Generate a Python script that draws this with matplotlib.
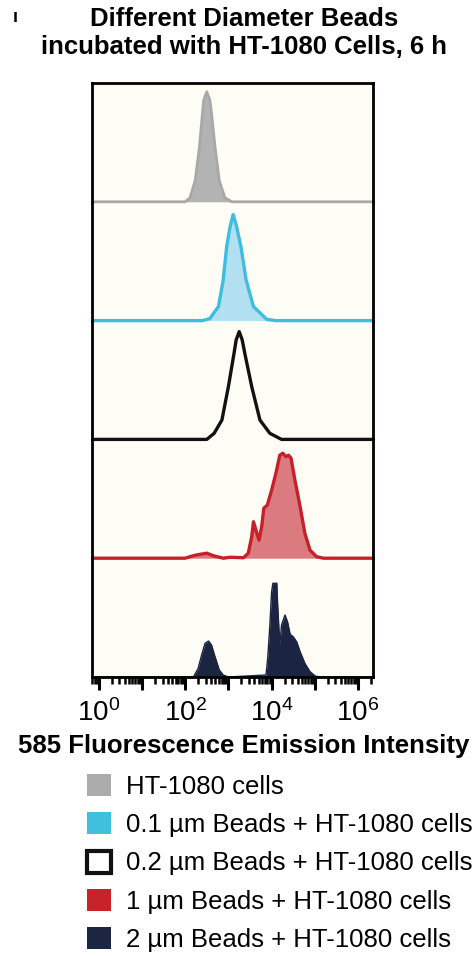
import numpy as np
import matplotlib
matplotlib.use('Agg')
import matplotlib.pyplot as plt
from matplotlib.patches import Patch
from matplotlib.ticker import FixedLocator, FuncFormatter, LogLocator, NullFormatter

plt.rcParams['font.family'] = ['Liberation Sans', 'DejaVu Sans']
plt.rcParams['mathtext.default'] = 'regular'

# log10 of 585 emission intensity, and histogram height (% of panel height)
gray_log = [2.00, 2.11, 2.23, 2.33, 2.40, 2.43, 2.50, 2.57, 2.61, 2.69, 2.79, 2.92, 3.08]
gray_cnt = [0, 3.4, 17.7, 46.3, 74.5, 85.7, 92.6, 85.7, 74.5, 46.3, 17.7, 3.4, 0]

cyan_log = [2.40, 2.57, 2.77, 2.88, 2.96, 3.04, 3.11, 3.19, 3.29, 3.41, 3.58, 3.89, 4.10]
cyan_cnt = [0, 1.7, 11.8, 34.2, 62.3, 79.1, 89.2, 79.1, 62.3, 34.2, 11.8, 1.0, 0]

black_log = [2.50, 2.67, 2.85, 3.00, 3.13, 3.18, 3.25, 3.32, 3.38, 3.54, 3.73, 3.96, 4.23]
black_cnt = [0, 5.1, 16.3, 44.4, 72.4, 83.7, 90.7, 83.7, 72.4, 44.4, 16.3, 5.1, 0]

red_log = [2.00, 2.12, 2.27, 2.50, 2.65, 2.88, 3.04, 3.35, 3.46, 3.54, 3.58, 3.66,
           3.71, 3.77, 3.82, 3.90, 4.00, 4.10, 4.19, 4.26, 4.33, 4.39, 4.45, 4.54,
           4.66, 4.77, 4.89, 5.04, 5.20]
red_cnt = [0, 1.4, 2.8, 4.2, 2.1, 0, 0.8, 0.4, 4.2, 18.1, 30.7, 21.0,
           15.2, 26.5, 42.1, 44.6, 57.2, 71.6, 86.7, 88.4, 85.4, 86.7, 84.2, 65.7,
           43.4, 21.0, 6.7, 1.3, 0]

navy_log = [2.19, 2.30, 2.38, 2.46, 2.54, 2.61, 2.69, 2.79, 2.88, 3.00,
            3.87, 3.91, 3.96, 4.00, 4.03, 4.12, 4.14, 4.19, 4.23, 4.31, 4.37,
            4.43, 4.50, 4.58, 4.66, 4.77, 4.89, 5.01, 5.12]
navy_cnt = [0, 7.3, 18.5, 28.4, 30.3, 26.9, 17.1, 5.9, 1.7, 0,
            1.7, 15.7, 43.8, 71.6, 78.9, 78.9, 60.6, 26.9, 43.8, 52.2, 46.3,
            35.9, 33.9, 29.7, 21.3, 11.5, 4.5, 0.8, 0]

labels = ['HT-1080 cells',
          '0.1 µm Beads + HT-1080 cells',
          '0.2 µm Beads + HT-1080 cells',
          '1 µm Beads + HT-1080 cells',
          '2 µm Beads + HT-1080 cells']

series = [
    # (log values, counts, line colour, fill colour, line width)
    (gray_log, gray_cnt, '#a8a8a8', '#b3b3b3', 2.0),
    (cyan_log, cyan_cnt, '#3dbde0', '#b2e0f0', 2.4),
    (black_log, black_cnt, '#111111', None, 2.4),
    (red_log, red_cnt, '#c8202a', '#db7b80', 2.4),
    (navy_log, navy_cnt, '#1b2440', '#1b2440', 1.0),
]
legend_colors = ['#ababab', '#40bfdf', None, '#c8232a', '#1c2541']

XMIN, XMAX = -0.157, 6.347

fig = plt.figure(figsize=(4.74, 9.56), dpi=100)
W, H = 474.0, 956.0
left, right = 92 / W, 373 / W
top, bottom = 1 - 83 / H, 1 - 677 / H
ph = (top - bottom) / 5

# shared background behind the stacked panels
bg = fig.add_axes([left, bottom, right - left, top - bottom], zorder=0)
bg.set_facecolor('#fdfdf6')
bg.set_xticks([])
bg.set_yticks([])
for s in bg.spines.values():
    s.set_visible(False)

axes = []
for i, (lg, cnt, lc, fc, lw) in enumerate(series):
    ax = fig.add_axes([left, top - (i + 1) * ph, right - left, ph], zorder=1 + i)
    ax.set_facecolor('none')
    xs = 10 ** np.r_[XMIN, lg, XMAX]
    ys = np.r_[0, cnt, 0]
    if fc is not None:
        ax.fill_between(xs, 0, ys, color=fc, linewidth=0)
    ax.plot(xs, ys, color=lc, linewidth=lw, clip_on=False,
            solid_joinstyle='round', solid_capstyle='butt')
    ax.set_xscale('log')
    ax.set_xlim(10 ** XMIN, 10 ** XMAX)
    ax.set_ylim(0, 100)
    ax.set_yticks([])
    for side in ['left', 'right']:
        ax.spines[side].set_linewidth(2)
        ax.spines[side].set_color('black')
    ax.spines['top'].set_visible(i == 0)
    ax.spines['top'].set_linewidth(2)
    ax.spines['bottom'].set_visible(i == 4)
    ax.spines['bottom'].set_linewidth(2)
    if i < 4:
        ax.tick_params(axis='x', which='both', bottom=False, labelbottom=False)
    axes.append(ax)

ax = axes[-1]
ax.xaxis.set_major_locator(FixedLocator([10.0 ** k for k in range(7)]))
ax.xaxis.set_major_formatter(FuncFormatter(
    lambda v, p: '$10^{%d}$' % round(np.log10(v)) if round(np.log10(v)) % 2 == 0 else ''))
ax.xaxis.set_minor_locator(LogLocator(base=10, subs=np.arange(2, 10), numticks=20))
ax.xaxis.set_minor_formatter(NullFormatter())
ax.tick_params(axis='x', which='major', length=9, width=2.2, labelsize=20, pad=7)
ax.tick_params(axis='x', which='minor', length=5, width=1.8)

fig.text(244 / W, 1 - 33 / H, 'Different Diameter Beads\nincubated with HT-1080 Cells, 6 h',
         ha='center', va='center', fontsize=18.5, fontweight='bold', linespacing=1.2)
fig.text(15 / W, 1 - 18 / H, 'ı', ha='center', va='center', fontsize=13, fontweight='bold')
fig.text(244 / W, 1 - 746 / H, '585 Fluorescence Emission Intensity',
         ha='center', va='center', fontsize=18.5, fontweight='bold')

handles = []
for c in legend_colors:
    if c is None:
        handles.append(Patch(facecolor='white', edgecolor='#111111', linewidth=3))
    else:
        handles.append(Patch(facecolor=c, edgecolor='none'))
fig.legend(handles, labels, loc='upper left', bbox_to_anchor=(87 / W, 1 - 774 / H),
           frameon=False, fontsize=18.5, handlelength=0.95, handleheight=0.95,
           handletextpad=0.55, labelspacing=0.52, borderaxespad=0, borderpad=0)

fig.savefig('out.png', dpi=100)
